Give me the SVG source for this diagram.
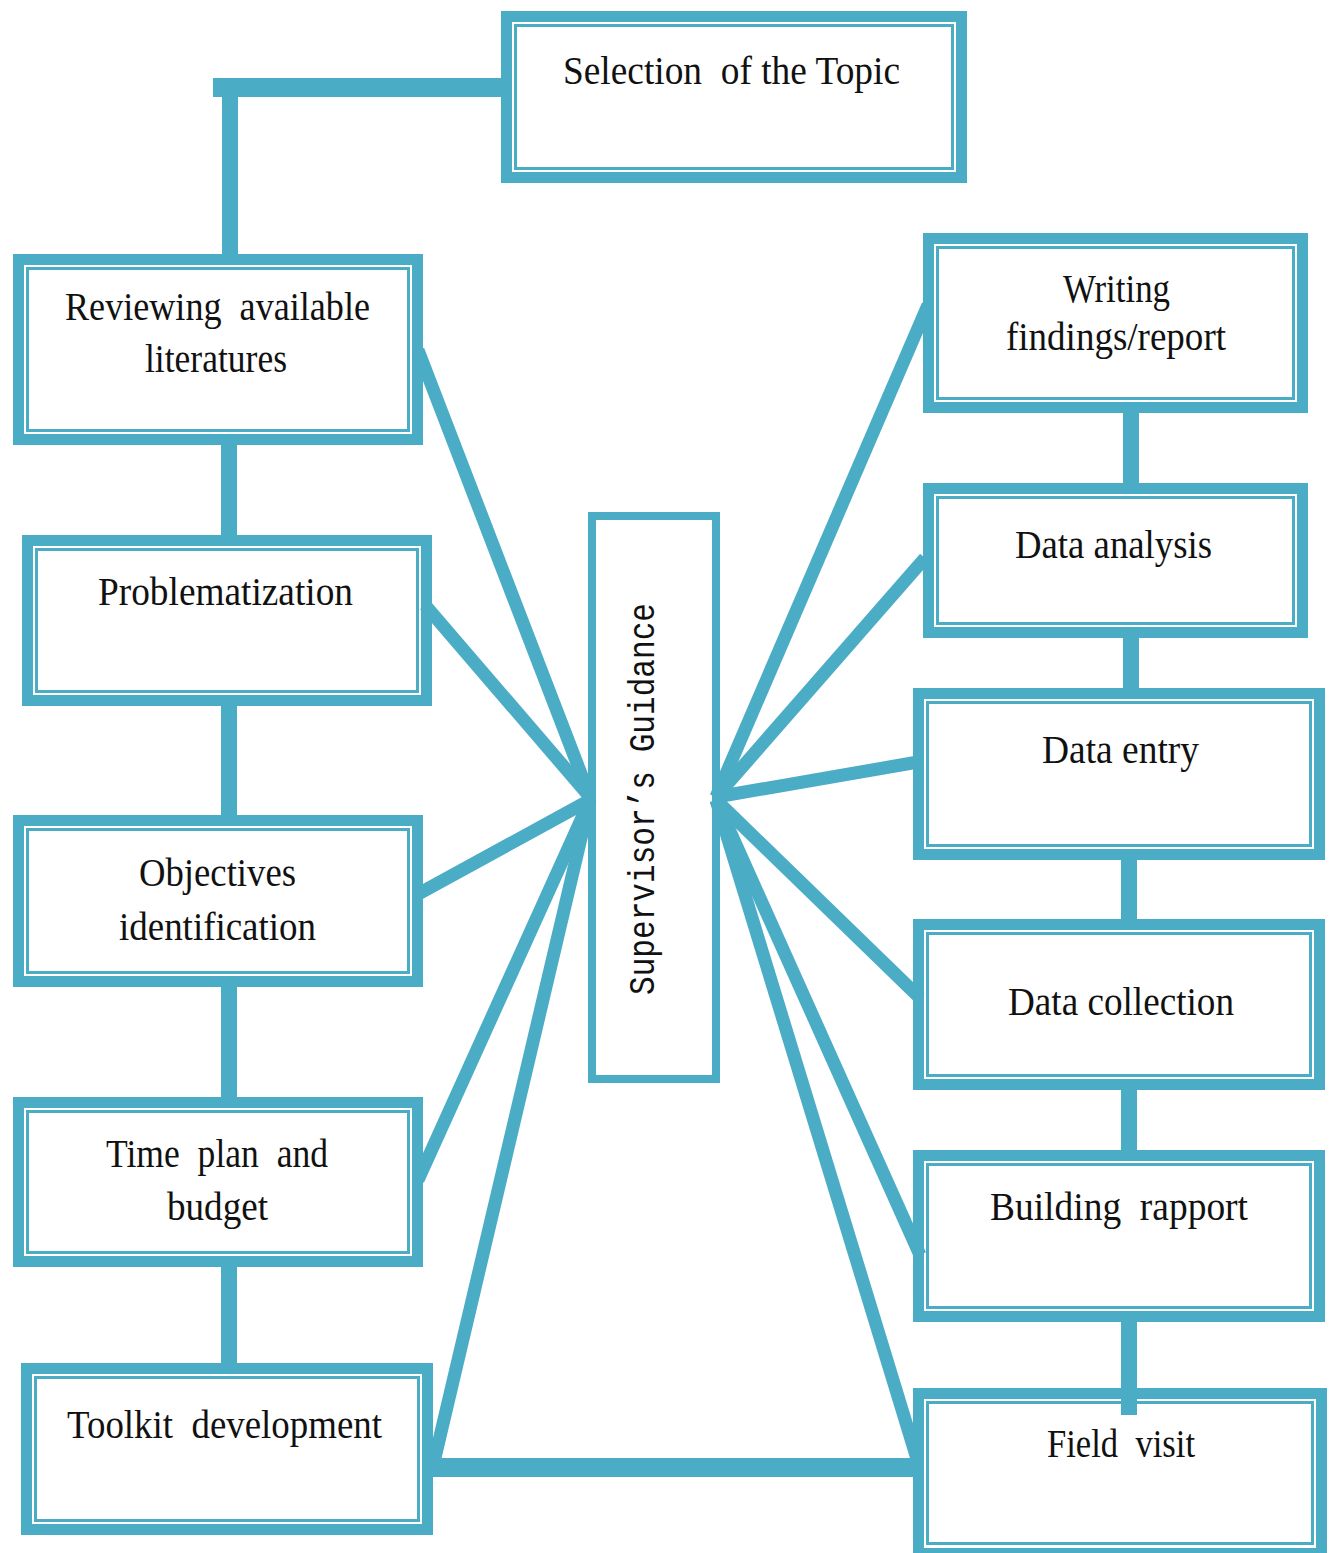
<svg xmlns="http://www.w3.org/2000/svg" width="1332" height="1553" viewBox="0 0 1332 1553" xml:space="preserve">
<style>
  .outer { fill: #ffffff; stroke: #4BACC6; stroke-width: 11; }
  .inner { fill: none; stroke: #4BACC6; stroke-width: 3; }
  .sup { fill: #ffffff; stroke: #4BACC6; stroke-width: 8; }
  .lbl { font-family: "Liberation Serif", "DejaVu Serif", serif; font-size: 41px; fill: #111111; white-space: pre; }
  .mono { font-family: "Liberation Mono", "DejaVu Sans Mono", monospace; font-size: 36px; fill: #111111; }
  .con { stroke: #4BACC6; fill: none; stroke-linecap: butt; }
  .fan { stroke-width: 13; }
  .bar { stroke-width: 16; }
</style>
<rect width="1332" height="1553" fill="#ffffff"/>

<g id="node-selection">
  <rect class="outer" x="506.5" y="16.5" width="455" height="161"/>
  <rect class="inner" x="515.5" y="25.5" width="437" height="143"/>
  <text class="lbl" x="563" y="84" textLength="337" lengthAdjust="spacingAndGlyphs">Selection  of the Topic</text>
</g>

<g id="node-reviewing">
  <rect class="outer" x="18.5" y="259.5" width="399" height="180"/>
  <rect class="inner" x="27.5" y="268.5" width="381" height="162"/>
  <text class="lbl" x="65" y="320" textLength="305" lengthAdjust="spacingAndGlyphs">Reviewing  available</text>
  <text class="lbl" x="145" y="372" textLength="142" lengthAdjust="spacingAndGlyphs">literatures</text>
</g>

<g id="node-problematization">
  <rect class="outer" x="27.5" y="540.5" width="399" height="160"/>
  <rect class="inner" x="36.5" y="549.5" width="381" height="142"/>
  <text class="lbl" x="98" y="605" textLength="255" lengthAdjust="spacingAndGlyphs">Problematization</text>
</g>

<g id="node-objectives">
  <rect class="outer" x="18.5" y="820.5" width="399" height="161"/>
  <rect class="inner" x="27.5" y="829.5" width="381" height="143"/>
  <text class="lbl" x="139" y="886" textLength="157" lengthAdjust="spacingAndGlyphs">Objectives</text>
  <text class="lbl" x="119" y="940" textLength="197" lengthAdjust="spacingAndGlyphs">identification</text>
</g>

<g id="node-timeplan">
  <rect class="outer" x="18.5" y="1102.5" width="399" height="159"/>
  <rect class="inner" x="27.5" y="1111.5" width="381" height="141"/>
  <text class="lbl" x="106" y="1167" textLength="222" lengthAdjust="spacingAndGlyphs">Time  plan  and</text>
  <text class="lbl" x="167" y="1220" textLength="101" lengthAdjust="spacingAndGlyphs">budget</text>
</g>

<g id="node-toolkit">
  <rect class="outer" x="26.5" y="1368.5" width="401" height="161"/>
  <rect class="inner" x="35.5" y="1377.5" width="383" height="143"/>
  <text class="lbl" x="67" y="1438" textLength="315" lengthAdjust="spacingAndGlyphs">Toolkit  development</text>
</g>

<g id="node-writing">
  <rect class="outer" x="928.5" y="238.5" width="374" height="169"/>
  <rect class="inner" x="937.5" y="247.5" width="356" height="151"/>
  <text class="lbl" x="1063" y="302" textLength="107" lengthAdjust="spacingAndGlyphs">Writing</text>
  <text class="lbl" x="1006" y="350" textLength="220" lengthAdjust="spacingAndGlyphs">findings/report</text>
</g>

<g id="node-analysis">
  <rect class="outer" x="928.5" y="488.5" width="374" height="144"/>
  <rect class="inner" x="937.5" y="497.5" width="356" height="126"/>
  <text class="lbl" x="1015" y="558" textLength="197" lengthAdjust="spacingAndGlyphs">Data analysis</text>
</g>

<g id="node-entry">
  <rect class="outer" x="918.5" y="693.5" width="401" height="161"/>
  <rect class="inner" x="927.5" y="702.5" width="383" height="143"/>
  <text class="lbl" x="1042" y="763" textLength="157" lengthAdjust="spacingAndGlyphs">Data entry</text>
</g>

<g id="node-collection">
  <rect class="outer" x="918.5" y="924.5" width="401" height="160"/>
  <rect class="inner" x="927.5" y="933.5" width="383" height="142"/>
  <text class="lbl" x="1008" y="1015" textLength="226" lengthAdjust="spacingAndGlyphs">Data collection</text>
</g>

<g id="node-rapport">
  <rect class="outer" x="918.5" y="1155.5" width="401" height="161"/>
  <rect class="inner" x="927.5" y="1164.5" width="383" height="143"/>
  <text class="lbl" x="990" y="1220" textLength="258" lengthAdjust="spacingAndGlyphs">Building  rapport</text>
</g>

<g id="node-fieldvisit">
  <rect class="outer" x="918.5" y="1393.5" width="403" height="160"/>
  <rect class="inner" x="927.5" y="1402.5" width="385" height="141"/>
  <text class="lbl" x="1047" y="1457" textLength="148" lengthAdjust="spacingAndGlyphs">Field  visit</text>
</g>

<g id="node-supervisor">
  <rect class="sup" x="592" y="516" width="124" height="563"/>
  <text class="mono" transform="translate(654,995) rotate(-90)" x="0" y="0" textLength="392" lengthAdjust="spacingAndGlyphs">Supervisor’s Guidance</text>
</g>

<g id="connectors">
  <path class="con" stroke-width="19" d="M 213 87.5 H 502"/>
  <path class="con bar" d="M 230 97 V 255"/>
  <path class="con bar" d="M 229 445 V 536"/>
  <path class="con bar" d="M 229 706 V 816"/>
  <path class="con bar" d="M 229 987 V 1098"/>
  <path class="con bar" d="M 229 1267 V 1364"/>
  <path class="con bar" d="M 1131 413 V 484"/>
  <path class="con bar" d="M 1131 638 V 689"/>
  <path class="con bar" d="M 1129 860 V 920"/>
  <path class="con bar" d="M 1129 1090 V 1151"/>
  <path class="con bar" d="M 1129 1321 V 1415"/>
  <path class="con" stroke-width="19" d="M 428 1467.5 H 922"/>
  <path class="con fan" d="M 418 350 L 590 797"/>
  <path class="con fan" d="M 425 605 L 590 797"/>
  <path class="con fan" d="M 420 893 L 590 800"/>
  <path class="con fan" d="M 418 1180 L 590 800"/>
  <path class="con fan" d="M 434 1462 L 590 800"/>
  <path class="con fan" d="M 928 305 L 716 797"/>
  <path class="con fan" d="M 925 558 L 716 797"/>
  <path class="con fan" d="M 918 762 L 716 797"/>
  <path class="con fan" d="M 920 998 L 716 800"/>
  <path class="con fan" d="M 920 1255 L 716 800"/>
  <path class="con fan" d="M 918 1462 L 716 800"/>
</g>
</svg>
